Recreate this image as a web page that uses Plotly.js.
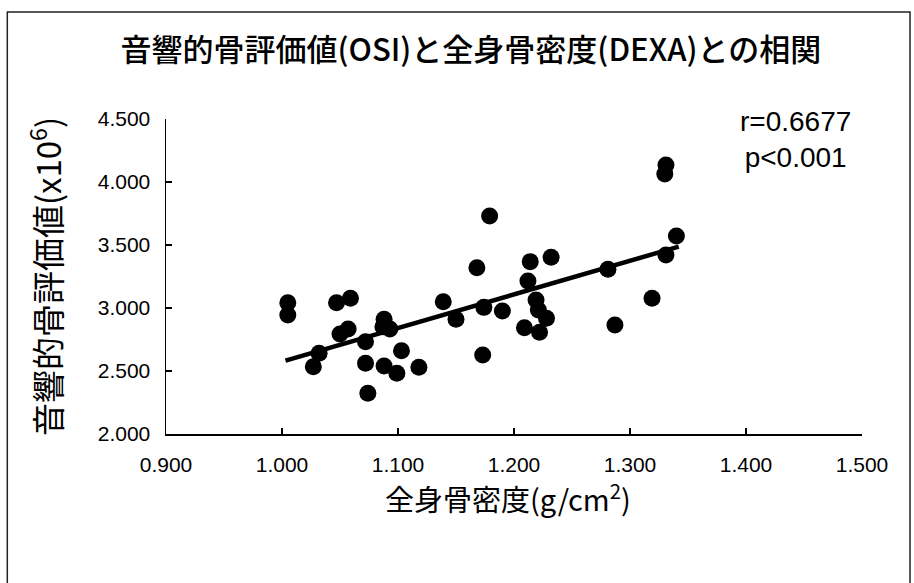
<!DOCTYPE html>
<html>
<head>
<meta charset="utf-8">
<script src="https://cdn.plot.ly/plotly-3.0.1.min.js"></script>
<style>html,body{margin:0;padding:0;background:#fff;}#chart{width:914px;height:583px;}</style>
</head>
<body>
<div id="chart"></div>
<script>
// Whole-body BMD (g/cm2) vs OSI (x10^6)
const bmd = [1.005,1.005,1.047,1.059,1.050,1.057,1.032,1.027,1.072,1.072,1.074,1.088,1.087,1.093,1.088,1.099,1.103,1.118,1.139,1.150,1.168,1.174,1.173,1.179,1.190,1.214,1.232,1.212,1.219,1.221,1.228,1.209,1.222,1.281,1.287,1.319,1.331,1.331,1.330,1.340];
const osi = [3.042,2.944,3.042,3.077,2.794,2.833,2.640,2.534,2.733,2.561,2.323,2.910,2.852,2.833,2.540,2.482,2.661,2.529,3.050,2.910,3.320,3.005,2.627,3.730,2.976,3.368,3.402,3.214,3.063,2.984,2.918,2.844,2.807,3.307,2.865,3.077,3.421,4.135,4.063,3.571];
const fitX = [1.003, 1.342];
const fitY = [2.582, 3.487];
const xTicks = [0.9,1.0,1.1,1.2,1.3,1.4,1.5];
const xTickLabels = ["0.900","1.000","1.100","1.200","1.300","1.400","1.500"];
const yTicks = [2.0,2.5,3.0,3.5,4.0,4.5];
const yTickLabels = ["2.000","2.500","3.000","3.500","4.000","4.500"];
const titleText = "音響的骨評価値(OSI)と全身骨密度(DEXA)との相関";
const xTitle = "全身骨密度(g/cm<sup>2</sup>)";
const yTitle = "音響的骨評価値(x10<sup>6</sup>)";
const statText = "r=0.6677<br>p&lt;0.001";

const FONT = "Liberation Sans, Arial, Noto Sans CJK JP, sans-serif";
const CJK = "Noto Sans CJK JP, Liberation Sans, sans-serif";

const traces = [
  {x: bmd, y: osi, type: 'scatter', mode: 'markers',
   marker: {color: '#000', size: 17, line: {width: 0}}, hoverinfo: 'x+y'},
  {x: fitX, y: fitY, type: 'scatter', mode: 'lines',
   line: {color: '#000', width: 4.5}, hoverinfo: 'skip'}
];

const layout = {
  width: 914, height: 583,
  margin: {l: 166, r: 52, t: 119, b: 149},
  paper_bgcolor: '#fff', plot_bgcolor: '#fff',
  showlegend: false,
  font: {family: FONT, color: '#000'},
  title: {text: titleText, font: {family: CJK, size: 31, color: '#000', weight: 500},
          x: 0.438, xanchor: 'center', y: 0.914, yanchor: 'middle', xref: 'paper'},
  xaxis: {range: [0.9, 1.5], tickvals: xTicks, ticktext: xTickLabels,
          showgrid: false, zeroline: false, showline: true, linecolor: '#000', linewidth: 1.5,
          ticks: 'inside', ticklen: 6, tickcolor: '#000', tickwidth: 1.2,
          tickfont: {family: FONT, size: 21, color: '#000'}, ticklabelstandoff: 11,
          title: {text: ''}},
  yaxis: {range: [2.0, 4.5], tickvals: yTicks, ticktext: yTickLabels,
          showgrid: false, zeroline: false, showline: true, linecolor: '#000', linewidth: 1.5,
          ticks: 'inside', ticklen: 6, tickcolor: '#000', tickwidth: 1.2,
          tickfont: {family: FONT, size: 21, color: '#000'}, ticklabelstandoff: 10,
          title: {text: yTitle, font: {family: CJK, size: 33, color: '#000'}, standoff: 26}},
  annotations: [
    {text: xTitle, xref: 'paper', yref: 'paper', x: 0.491, y: -0.2,
     xanchor: 'center', yanchor: 'middle', showarrow: false,
     font: {family: CJK, size: 29, color: '#000'}},
    {text: statText, xref: 'paper', yref: 'paper', x: 0.905, y: 0.935,
     xanchor: 'center', yanchor: 'middle', showarrow: false, align: 'center',
     font: {family: FONT, size: 28, color: '#000'}}
  ],
  shapes: [
    {type: 'rect', xref: 'paper', yref: 'paper', x0: -0.228, x1: 1.069, y0: -0.52, y1: 1.340,
     line: {color: '#222', width: 1.5}, fillcolor: 'rgba(0,0,0,0)', layer: 'below'}
  ]
};

Plotly.newPlot('chart', traces, layout, {displayModeBar: false, staticPlot: true});
</script>
</body>
</html>
